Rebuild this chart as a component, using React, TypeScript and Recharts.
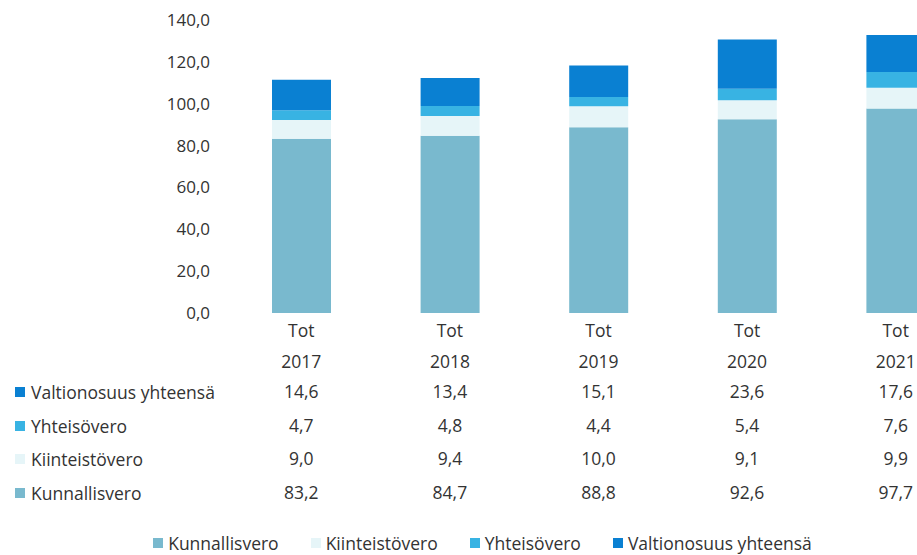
import { BarChart, Bar, XAxis, YAxis, Legend } from 'recharts'

const categories = ['2017', '2018', '2019', '2020', '2021']
const kunnallisvero = [83.2, 84.7, 88.8, 92.6, 97.7]
const kiinteistovero = [9.0, 9.4, 10.0, 9.1, 9.9]
const yhteisovero = [4.7, 4.8, 4.4, 5.4, 7.6]
const valtionosuus = [14.6, 13.4, 15.1, 23.6, 17.6]
const yTicks = [0, 20, 40, 60, 80, 100, 120, 140]

const SERIES = [
  { key: 'kunnallisvero', name: 'Kunnallisvero', color: '#79b9ce', values: kunnallisvero },
  { key: 'kiinteistovero', name: 'Kiinteistövero', color: '#e6f5f8', values: kiinteistovero },
  { key: 'yhteisovero', name: 'Yhteisövero', color: '#38b3e3', values: yhteisovero },
  { key: 'valtionosuus', name: 'Valtionosuus yhteensä', color: '#0a80d2', values: valtionosuus },
]

// table rows are listed top-down in reverse stacking order
const TABLE_ROWS = [...SERIES].reverse()

const FONT = '"Open Sans", sans-serif'
const TEXT = '#333'
const FS = 17.5

const data = categories.map((year, i) => {
  const row: Record<string, string | number> = { year }
  SERIES.forEach((s) => {
    row[s.key] = s.values[i]
  })
  return row
})

const fmt = (v: number) => v.toFixed(1).replace('.', ',')

function TableTick(props: any) {
  const { x, y, payload, index } = props
  return (
    <g fontFamily={FONT} fontSize={FS} fill={TEXT} textAnchor="middle">
      <text x={x} y={y + 9} dominantBaseline="central">Tot</text>
      <text x={x} y={y + 40} dominantBaseline="central">{payload.value}</text>
      {TABLE_ROWS.map((s, r) => (
        <text key={s.key} x={x} y={y + 70 + r * 33.7} dominantBaseline="central">
          {fmt(s.values[index])}
        </text>
      ))}
    </g>
  )
}

function LegendContent() {
  return (
    <div
      style={{
        display: 'flex',
        justifyContent: 'center',
        gap: 32,
        fontFamily: FONT,
        fontSize: FS,
        color: TEXT,
        marginLeft: -5,
        marginTop: 6,
      }}
    >
      {SERIES.map((s) => (
        <span key={s.key} style={{ display: 'flex', alignItems: 'center', gap: 5 }}>
          <span style={{ width: 10, height: 10, background: s.color, display: 'inline-block' }} />
          {s.name}
        </span>
      ))}
    </div>
  )
}

export default function App() {
  return (
    <div style={{ position: 'absolute', left: 0, top: 0, width: 917, height: 555, overflow: 'hidden', background: '#fff' }}>
      <BarChart width={970} height={555} data={data} margin={{ top: 20, right: 0, bottom: 0, left: 0 }} barSize={59}>
        <YAxis
          domain={[0, 140]}
          ticks={yTicks}
          tickFormatter={fmt}
          axisLine={false}
          tickLine={false}
          width={227}
          tickMargin={11}
          tick={{ fill: TEXT, fontSize: 17, fontFamily: FONT }}
        />
        <XAxis
          dataKey="year"
          axisLine={false}
          tickLine={false}
          height={212}
          interval={0}
          tick={<TableTick />}
        />
        <Legend verticalAlign="bottom" height={30} content={<LegendContent />} />
        {SERIES.map((s) => (
          <Bar key={s.key} dataKey={s.key} name={s.name} stackId="a" fill={s.color} isAnimationActive={false} />
        ))}
      </BarChart>
      {TABLE_ROWS.map((s, r) => (
        <div
          key={s.key}
          style={{
            position: 'absolute',
            left: 15,
            top: 392 + r * 33.7 - 12,
            height: 24,
            display: 'flex',
            alignItems: 'center',
            gap: 6,
            fontFamily: FONT,
            fontSize: FS,
            color: TEXT,
            whiteSpace: 'nowrap',
          }}
        >
          <span style={{ width: 10, height: 10, background: s.color, display: 'inline-block' }} />
          {s.name}
        </div>
      ))}
    </div>
  )
}
